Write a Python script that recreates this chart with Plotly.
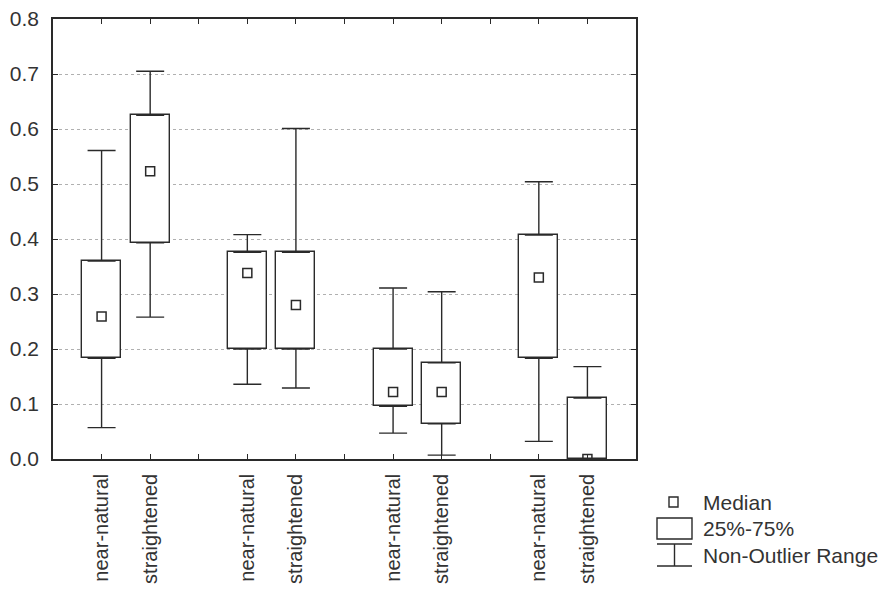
import plotly.graph_objects as go

# Box-plot summary per group (four sites, each near-natural vs straightened)
labels = ["near-natural", "straightened", "", "near-natural", "straightened", "",
          "near-natural", "straightened", "", "near-natural", "straightened"]
positions = [1, 2, 4, 5, 7, 8, 10, 11]
upper = [0.561, 0.705, 0.408, 0.601, 0.311, 0.304, 0.504, 0.168]
q3 = [0.360, 0.625, 0.376, 0.376, 0.200, 0.175, 0.407, 0.111]
median = [0.259, 0.523, 0.338, 0.280, 0.122, 0.122, 0.330, 0.0]
q1 = [0.183, 0.393, 0.200, 0.200, 0.096, 0.064, 0.183, 0.0]
lower = [0.057, 0.258, 0.136, 0.129, 0.047, 0.007, 0.032, 0.0]
y_ticks = [0.0, 0.1, 0.2, 0.3, 0.4, 0.5, 0.6, 0.7, 0.8]

INK = "#2a2a2a"
TXT = "#333333"
FONT = "Liberation Sans, Arial, sans-serif"
FS = 21

W, H = 885, 597
L, R, T, B = 53, 636, 19, 459  # plot area in pixels

fig = go.Figure()

# 25%-75% boxes
fig.add_trace(go.Bar(
    x=positions, base=q1, y=[b - a for a, b in zip(q1, q3)],
    width=0.8, marker=dict(color="white", line=dict(color=INK, width=1.4)),
    showlegend=False, hoverinfo="skip"))

# upper whiskers
fig.add_trace(go.Scatter(
    x=positions, y=q3, mode="markers", marker=dict(size=1, opacity=0),
    error_y=dict(type="data", symmetric=False,
                 array=[u - t for u, t in zip(upper, q3)],
                 arrayminus=[0] * len(q3), width=14, thickness=1.4, color=INK),
    showlegend=False, hoverinfo="skip"))

# lower whiskers
fig.add_trace(go.Scatter(
    x=positions, y=q1, mode="markers", marker=dict(size=1, opacity=0),
    error_y=dict(type="data", symmetric=False,
                 array=[0] * len(q1),
                 arrayminus=[a - lo for a, lo in zip(q1, lower)],
                 width=14, thickness=1.4, color=INK),
    showlegend=False, hoverinfo="skip"))

# medians
fig.add_trace(go.Scatter(
    x=positions, y=median, mode="markers",
    marker=dict(symbol="square-open", size=9, color=INK, line=dict(width=1.5, color=INK)),
    showlegend=False, hoverinfo="skip"))


def px(x):
    return (x - L) / (R - L)


def py(y):
    return (B - y) / (B - T)


# custom key at the lower right
shapes = [
    dict(type="rect", xref="paper", yref="paper", x0=px(669), x1=px(678), y0=py(507), y1=py(497),
         line=dict(color=INK, width=1.4), fillcolor="white"),
    dict(type="rect", xref="paper", yref="paper", x0=px(657), x1=px(692), y0=py(539), y1=py(518),
         line=dict(color=INK, width=1.4), fillcolor="white"),
    dict(type="line", xref="paper", yref="paper", x0=px(657), x1=px(692), y0=py(544), y1=py(544),
         line=dict(color=INK, width=1.4)),
    dict(type="line", xref="paper", yref="paper", x0=px(674.5), x1=px(674.5), y0=py(544), y1=py(566),
         line=dict(color=INK, width=1.4)),
    dict(type="line", xref="paper", yref="paper", x0=px(657), x1=px(692), y0=py(566), y1=py(566),
         line=dict(color=INK, width=1.4)),
]
key_text = [("Median", 502), ("25%-75%", 528), ("Non-Outlier Range", 555)]
annotations = [
    dict(text=t, xref="paper", yref="paper", x=px(701), y=py(yy), xanchor="left", yanchor="middle",
         showarrow=False, font=dict(family=FONT, size=FS, color=TXT))
    for t, yy in key_text
]

fig.update_layout(
    width=W, height=H,
    margin=dict(l=L, r=W - R, t=T, b=H - B, pad=0, autoexpand=False),
    paper_bgcolor="white", plot_bgcolor="white",
    font=dict(family=FONT, size=FS, color=TXT),
    shapes=shapes, annotations=annotations,
    bargap=0,
)
fig.update_xaxes(
    range=[0, 12], tickmode="array", tickvals=list(range(1, 12)), ticktext=labels,
    tickangle=-90, ticks="inside", ticklen=5, tickcolor=INK, tickwidth=1.2,
    tickfont=dict(size=20),
    showline=True, linecolor=INK, linewidth=1.6, mirror="ticks",
    showgrid=False, zeroline=False, ticklabelstandoff=5, automargin=False,
)
fig.update_yaxes(
    range=[0, 0.8], tickmode="array", tickvals=y_ticks,
    ticktext=[f"{v:.1f}" for v in y_ticks],
    ticks="inside", ticklen=5, tickcolor=INK, tickwidth=1.2,
    showline=True, linecolor=INK, linewidth=1.6, mirror="ticks",
    showgrid=True, gridcolor="#b0b0b0", griddash="dot", gridwidth=1,
    zeroline=False, ticklabelstandoff=8, automargin=False,
)

fig.write_html("out.html")
